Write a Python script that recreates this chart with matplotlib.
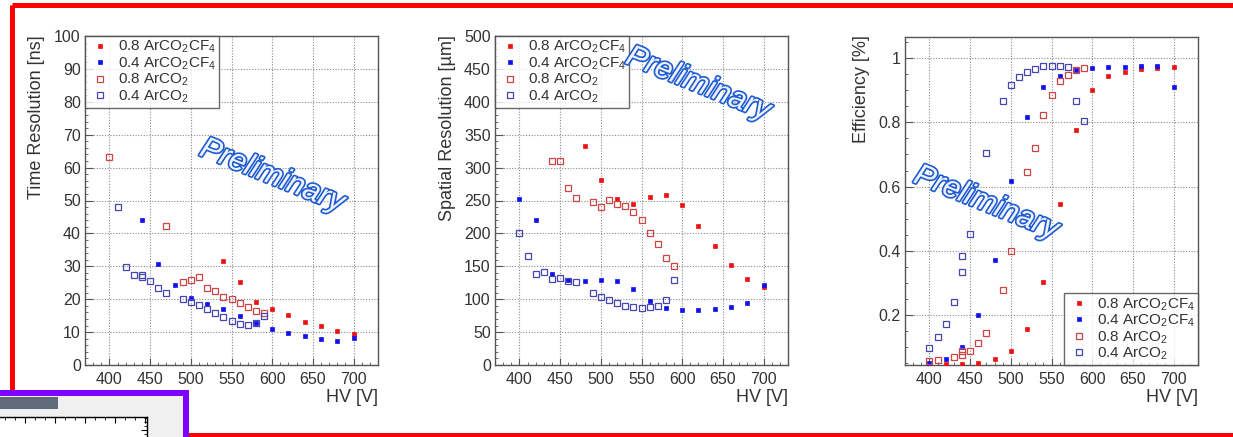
import matplotlib
matplotlib.use('Agg')
import matplotlib.pyplot as plt
from matplotlib.ticker import MultipleLocator
from matplotlib.lines import Line2D
from matplotlib.patches import Rectangle
import matplotlib.patheffects as pe

plt.rcParams['font.family'] = ['Liberation Sans', 'DejaVu Sans']
plt.rcParams['mathtext.fontset'] = 'custom'
plt.rcParams['mathtext.rm'] = 'Liberation Sans'
plt.rcParams['mathtext.it'] = 'Liberation Sans:italic'
plt.rcParams['mathtext.bf'] = 'Liberation Sans:bold'

# ---------------- data ----------------
labels = ['0.8 ArCO$_{2}$CF$_{4}$', '0.4 ArCO$_{2}$CF$_{4}$',
          '0.8 ArCO$_{2}$', '0.4 ArCO$_{2}$']

# Time resolution [ns]
t_hv_08cf4 = [540, 560, 580, 600, 620, 640, 660, 680, 700]
t_08cf4 = [31.7, 25.1, 19.3, 16.9, 15.3, 13.2, 11.8, 10.3, 9.4]
t_hv_04cf4 = [440, 460, 480, 500, 520, 540, 560, 580, 600, 620, 640, 660, 680, 700]
t_04cf4 = [44.1, 30.8, 24.2, 20.5, 18.4, 17.0, 14.9, 12.9, 11.0, 9.8, 8.8, 8.0, 7.4, 8.3]
t_hv_08 = [400, 470, 490, 500, 510, 520, 530, 540, 550, 560, 570, 580, 590]
t_08 = [63.1, 42.1, 25.2, 25.8, 26.8, 23.5, 22.6, 20.7, 20.0, 18.9, 17.6, 16.4, 15.8]
t_hv_04 = [410, 420, 430, 440, 440, 450, 460, 470, 490, 500, 510, 520, 530, 540, 550, 560, 570, 580, 590]
t_04 = [47.9, 29.7, 27.4, 27.4, 26.6, 25.6, 23.5, 21.8, 20.2, 19.1, 18.2, 17.0, 15.9, 14.7, 13.4, 12.5, 12.2, 12.7, 14.9]

# Spatial resolution [um]
s_hv_08cf4 = [480, 500, 520, 540, 560, 580, 600, 620, 640, 660, 680, 700]
s_08cf4 = [333, 281, 252, 244, 255, 259, 243, 212, 181, 152, 130, 119]
s_hv_04cf4 = [400, 420, 440, 460, 480, 500, 520, 540, 560, 580, 600, 620, 640, 660, 680, 700]
s_04cf4 = [253, 221, 139, 129, 127, 129, 127, 115, 98, 87, 83, 83, 85, 88, 94, 122]
s_hv_08 = [440, 450, 460, 470, 490, 500, 510, 520, 530, 540, 550, 560, 570, 580, 590]
s_08 = [310, 310, 269, 254, 247, 240, 251, 245, 242, 232, 220, 201, 184, 162, 150]
s_hv_04 = [400, 410, 420, 430, 440, 450, 460, 470, 490, 500, 510, 520, 530, 540, 550, 560, 570, 580, 590]
s_04 = [200, 165, 138, 142, 131, 132, 128, 126, 110, 104, 99, 94, 90, 88, 87, 88, 89, 99, 129]

# Efficiency
e_hv_08cf4 = [420, 440, 460, 480, 500, 520, 540, 560, 580, 600, 620, 640, 660, 680, 700]
e_08cf4 = [0.046, 0.048, 0.050, 0.062, 0.089, 0.156, 0.304, 0.547, 0.776, 0.901, 0.945, 0.958, 0.966, 0.969, 0.974]
e_hv_04cf4 = [400, 420, 440, 460, 480, 500, 520, 540, 560, 580, 600, 620, 640, 660, 680, 700]
e_04cf4 = [0.051, 0.064, 0.100, 0.199, 0.370, 0.617, 0.817, 0.911, 0.945, 0.963, 0.969, 0.973, 0.974, 0.976, 0.975, 0.910]
e_hv_08 = [400, 410, 430, 440, 440, 450, 460, 470, 490, 500, 520, 530, 540, 550, 560, 570, 580, 590]
e_08 = [0.058, 0.059, 0.068, 0.087, 0.074, 0.089, 0.114, 0.145, 0.278, 0.399, 0.644, 0.719, 0.822, 0.884, 0.930, 0.949, 0.962, 0.968]
e_hv_04 = [400, 410, 420, 430, 440, 440, 450, 470, 490, 500, 510, 520, 530, 540, 550, 560, 570, 580, 590]
e_04 = [0.096, 0.130, 0.171, 0.239, 0.335, 0.384, 0.451, 0.706, 0.868, 0.916, 0.941, 0.958, 0.967, 0.975, 0.977, 0.977, 0.974, 0.868, 0.804]

panels = [
    dict(rect=(85, 36, 378, 365), ylim=(0, 100), ymaj=10, ymin=2,
         series=[(t_hv_08cf4, t_08cf4), (t_hv_04cf4, t_04cf4), (t_hv_08, t_08), (t_hv_04, t_04)],
         ylabel='Time Resolution [ns]', ylab_x=37, leg='upper left', prelim=(272, 176),
         yfmt=None),
    dict(rect=(495, 36, 788, 365), ylim=(0, 500), ymaj=50, ymin=10,
         series=[(s_hv_08cf4, s_08cf4), (s_hv_04cf4, s_04cf4), (s_hv_08, s_08), (s_hv_04, s_04)],
         ylabel='Spatial Resolution [µm]', ylab_x=447, leg='upper left', prelim=(698, 84),
         yfmt=None),
    dict(rect=(905, 37, 1198, 365), ylim=(0.044, 1.066), ymaj=0.2, ymin=0.05,
         series=[(e_hv_08cf4, e_08cf4), (e_hv_04cf4, e_04cf4), (e_hv_08, e_08), (e_hv_04, e_04)],
         ylabel='Efficiency [%]', ylab_x=862, leg='lower right', prelim=(986, 203),
         yfmt='eff'),
]

W, H = 1233, 437
fig = plt.figure(figsize=(W / 100, H / 100), dpi=100)
fig.patch.set_facecolor('white')

def rect_frac(l, t, r, b):
    return [l / W, 1 - b / H, (r - l) / W, (b - t) / H]

# ---------------- screenshot frame decorations ----------------
red = '#ff0000'
for (x0, y0, x1, y1) in [(12.5, 4.5, 1260, 4.5), (12.5, 4.5, 12.5, 440), (12.5, 435, 1260, 435)]:
    fig.add_artist(Line2D([x0 / W, x1 / W], [1 - y0 / H, 1 - y1 / H], color=red, lw=3.6,
                          transform=fig.transFigure, solid_capstyle='butt', zorder=0))

fig.add_artist(Rectangle((-20 / W, 1 - 460 / H), 205.5 / W, (460 - 392.5) / H, transform=fig.transFigure,
                         facecolor='#f0f0f0', edgecolor='#7f00ff', lw=4.3, zorder=1))
fig.add_artist(Rectangle((0, 1 - 409 / H), 58 / W, 12 / H, transform=fig.transFigure,
                         facecolor='#5f6b7a', edgecolor='none', zorder=2))
axd = fig.add_axes(rect_frac(-5, 417, 147, 470), zorder=2)
axd.set_xlim(0, 152)
axd.set_ylim(0, 53)
axd.xaxis.set_ticks_position('top')
axd.yaxis.set_ticks_position('right')
axd.xaxis.set_major_locator(MultipleLocator(30))
axd.xaxis.set_minor_locator(MultipleLocator(10))
axd.yaxis.set_major_locator(MultipleLocator(20))
axd.yaxis.set_minor_locator(MultipleLocator(4))
axd.tick_params(which='both', direction='in', labeltop=False, labelright=False,
                labelbottom=False, labelleft=False, color='black')
axd.tick_params(which='major', length=4)
axd.tick_params(which='minor', length=2.2)
for s in axd.spines.values():
    s.set_color('black')
    s.set_linewidth(1)

# ---------------- panels ----------------
styles = [
    dict(marker='s', ms=3.4, mfc='#ee1111', mec='#ee1111', mew=0.5),
    dict(marker='s', ms=3.4, mfc='#1111ee', mec='#1111ee', mew=0.5),
    dict(marker='s', ms=4.4, mfc='none', mec='#cc4444', mew=0.9),
    dict(marker='s', ms=4.4, mfc='none', mec='#4646b0', mew=0.9),
]
txtc = '#333333'

for p in panels:
    l, t, r, b = p['rect']
    ax = fig.add_axes(rect_frac(l, t, r, b), zorder=3)
    ax.set_facecolor('white')
    for (xs, ys), st, lab in zip(p['series'], styles, labels):
        ax.plot(xs, ys, ls='none', label=lab, zorder=3, **st)
    ax.set_xlim(370, 730)
    ax.set_ylim(*p['ylim'])
    ax.xaxis.set_major_locator(MultipleLocator(50))
    ax.xaxis.set_minor_locator(MultipleLocator(10))
    if p['yfmt'] == 'eff':
        ax.set_yticks([0.2, 0.4, 0.6, 0.8, 1.0])
        ax.set_yticklabels(['0.2', '0.4', '0.6', '0.8', '1'])
    else:
        ax.yaxis.set_major_locator(MultipleLocator(p['ymaj']))
    ax.yaxis.set_minor_locator(MultipleLocator(p['ymin']))
    ax.grid(True, which='major', color='#8a8a8a', ls=(0, (1, 1.5)), lw=0.8, zorder=0)
    ax.tick_params(which='both', direction='in', top=False, right=False, colors='#555555',
                   labelcolor=txtc, labelsize=11.5)
    ax.tick_params(axis='x', which='major', length=5, pad=5)
    ax.tick_params(axis='y', which='major', length=6, pad=3)
    ax.tick_params(which='minor', length=2.5)
    for s in ax.spines.values():
        s.set_color('#555555')
        s.set_linewidth(1.0)
    legkw = dict(prop={'size': 11}, borderaxespad=0, labelspacing=0.0, borderpad=0.2,
                 handlelength=1.5, handletextpad=0.45, numpoints=1, fancybox=False)
    if p['leg'] == 'upper left':
        lg = ax.legend(loc='upper left', bbox_to_anchor=(0, 1), **legkw)
    else:
        lg = ax.legend(loc='lower right', bbox_to_anchor=(1, 0), **legkw)
    lg.get_frame().set_edgecolor('#444444')
    lg.get_frame().set_linewidth(1.0)
    lg.set_zorder(5)
    for tx in lg.get_texts():
        tx.set_color(txtc)
    # labels
    fig.text(p['ylab_x'] / W, 1 - 35 / H, p['ylabel'], rotation=90, ha='center', va='top',
             fontsize=13, color=txtc)
    fig.text(r / W, 1 - 398 / H, 'HV [V]', ha='right', va='center', fontsize=13, color=txtc)
    cx, cy = p['prelim']
    fig.text(cx / W, 1 - cy / H, 'Preliminary', rotation=-22, ha='center', va='center',
             fontsize=22, style='italic', color='#eef3ff', zorder=6,
             path_effects=[pe.withStroke(linewidth=2.4, foreground='#1f5cd0')])

fig.savefig('out.png', dpi=100)
